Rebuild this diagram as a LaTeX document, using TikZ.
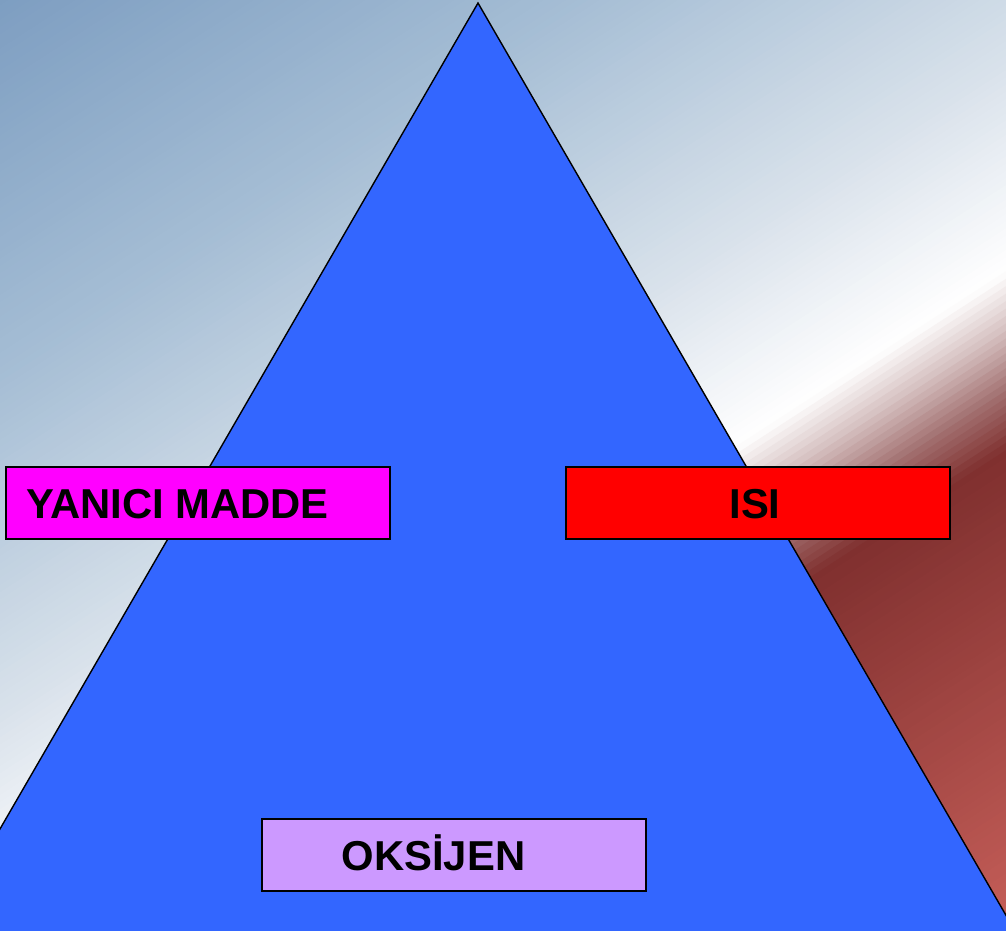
\documentclass[tikz,border=0pt]{standalone}
\usepackage{fontspec}
\setmainfont{Liberation Sans}
\definecolor{bgA}{HTML}{7B9CC0}
\definecolor{bgB}{HTML}{A6BED5}
\definecolor{bgC}{HTML}{D9E2EB}
\definecolor{bgD}{HTML}{FFFFFF}
\definecolor{bgE}{HTML}{D4BEBE}
\definecolor{bgF}{HTML}{A27070}
\definecolor{bgG}{HTML}{80302F}
\definecolor{bgH}{HTML}{C8605A}
\definecolor{ucgen}{HTML}{3366FF}
\definecolor{yanici}{HTML}{FF00FF}
\definecolor{isi}{HTML}{FF0000}
\definecolor{oksijen}{HTML}{CC99FF}
\tikzset{
  kutu/.style={draw, line width=1.1pt, minimum width=7.68cm, minimum height=1.44cm,
    text height=0.6cm, text depth=0pt, font=\bfseries\fontsize{23.8}{28}\selectfont}
}
\begin{document}
\begin{tikzpicture}[x=0.02cm,y=-0.02cm]
  \useasboundingbox (0,0) rectangle (1006,930);
  \begin{scope}
    \clip (0,0) rectangle (1006,930);
    \begin{scope}[x={(0.0109cm,-0.01678cm)},y={(0.01678cm,0.0109cm)}]
      \foreach \ta/\tb/\ca/\cb in {-20/320/bgA/bgB, 320/600/bgB/bgC, 600/775/bgC/bgD,
                                   775/825/bgD/bgE, 825/875/bgE/bgF, 875/925/bgF/bgG,
                                   925/1340/bgG/bgH}{
        \pgfmathtruncatemacro\n{(\tb-\ta)/6}
        \pgfmathsetmacro\adim{(\tb-\ta)/\n}
        \foreach \k in {1,...,\n}{
          \pgfmathsetmacro\tsol{\ta+(\k-1)*\adim}
          \pgfmathsetmacro\tsag{\ta+\k*\adim+1}
          \pgfmathtruncatemacro\yuzde{100*(\k-0.5)/\n}
          \fill[\cb!\yuzde!\ca] (\tsol,-700) -- (\tsag,-700) -- (\tsag,1000) -- (\tsol,1000) -- cycle;
        }
      }
    \end{scope}
    \coordinate (tepe) at (478,3);
    \coordinate (sol) at (-99,1000);
    \coordinate (sag) at (1055,1000);
    \draw[line width=0.8pt, fill=ucgen] (tepe) -- (sol) -- (sag) -- cycle;
  \end{scope}
  \node[kutu, fill=yanici] (yanicimadde) at (198,503) {YANICI MADDE\hspace*{0.82cm}};
  \node[kutu, fill=isi] (isi) at (758,503) {ISI\hspace*{0.12cm}};
  \node[kutu, fill=oksijen] (oksijen) at (454,855) {OKSİJEN\hspace*{0.82cm}};
\end{tikzpicture}
\end{document}
